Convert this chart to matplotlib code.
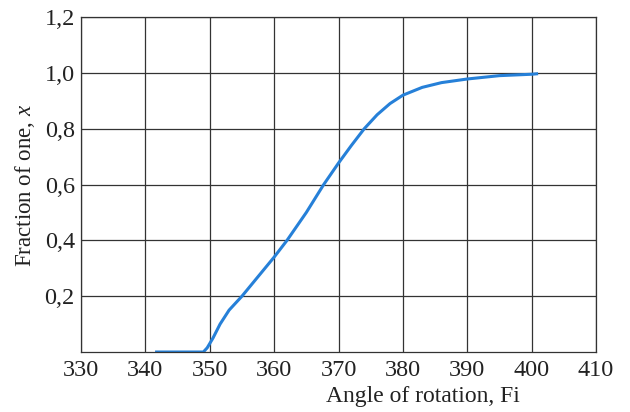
import matplotlib
matplotlib.use("Agg")
import matplotlib.pyplot as plt

# Curve values
angle = [341.5, 345, 349, 349.6, 350.5, 351.6, 353, 355, 357.5, 360, 362, 365, 367.7,
         370, 372, 374, 376, 378, 380, 383, 386, 390, 395, 400, 401]
fraction = [0.0, 0.0, 0.0, 0.015, 0.05, 0.10, 0.15, 0.2, 0.27, 0.34, 0.40, 0.50, 0.60,
            0.677, 0.74, 0.80, 0.85, 0.89, 0.92, 0.948, 0.965, 0.978, 0.99, 0.995, 0.997]

x_ticks = [330, 340, 350, 360, 370, 380, 390, 400, 410]
y_ticks = [0.2, 0.4, 0.6, 0.8, 1.0, 1.2]
y_tick_labels = ["0,2", "0,4", "0,6", "0,8", "1,0", "1,2"]

plt.rcParams["font.family"] = ["Liberation Serif", "DejaVu Serif"]
plt.rcParams["mathtext.fontset"] = "custom"
plt.rcParams["mathtext.it"] = "Liberation Serif:italic"
plt.rcParams["mathtext.rm"] = "Liberation Serif"

fig = plt.figure(figsize=(6.3, 4.12), dpi=100)
ax = fig.add_axes([0.1286, 0.1456, 0.8175, 0.8131])

ax.plot(angle, fraction, color="#2680d8", lw=2.2, solid_capstyle="butt")

ax.set_xlim(330, 410)
ax.set_ylim(0, 1.2)
ax.set_xticks(x_ticks)
ax.set_yticks(y_ticks)
ax.set_yticklabels(y_tick_labels)
ax.tick_params(length=0, labelsize=17.5, colors="#222222")
ax.tick_params(axis="x", pad=6)
ax.tick_params(axis="y", pad=4.5)
ax.grid(True, color="#333333", lw=0.9)
for s in ax.spines.values():
    s.set_color("#333333")
    s.set_linewidth(0.9)

ax.text(0.664, -0.134, "Angle of rotation, Fi", transform=ax.transAxes,
        ha="center", va="center", fontsize=17, color="#222222")
ax.text(-0.109, 0.496, "Fraction of one, $x$", transform=ax.transAxes,
        ha="center", va="center", rotation=90, fontsize=16.5, color="#222222")

fig.savefig("out.png", dpi=100)
